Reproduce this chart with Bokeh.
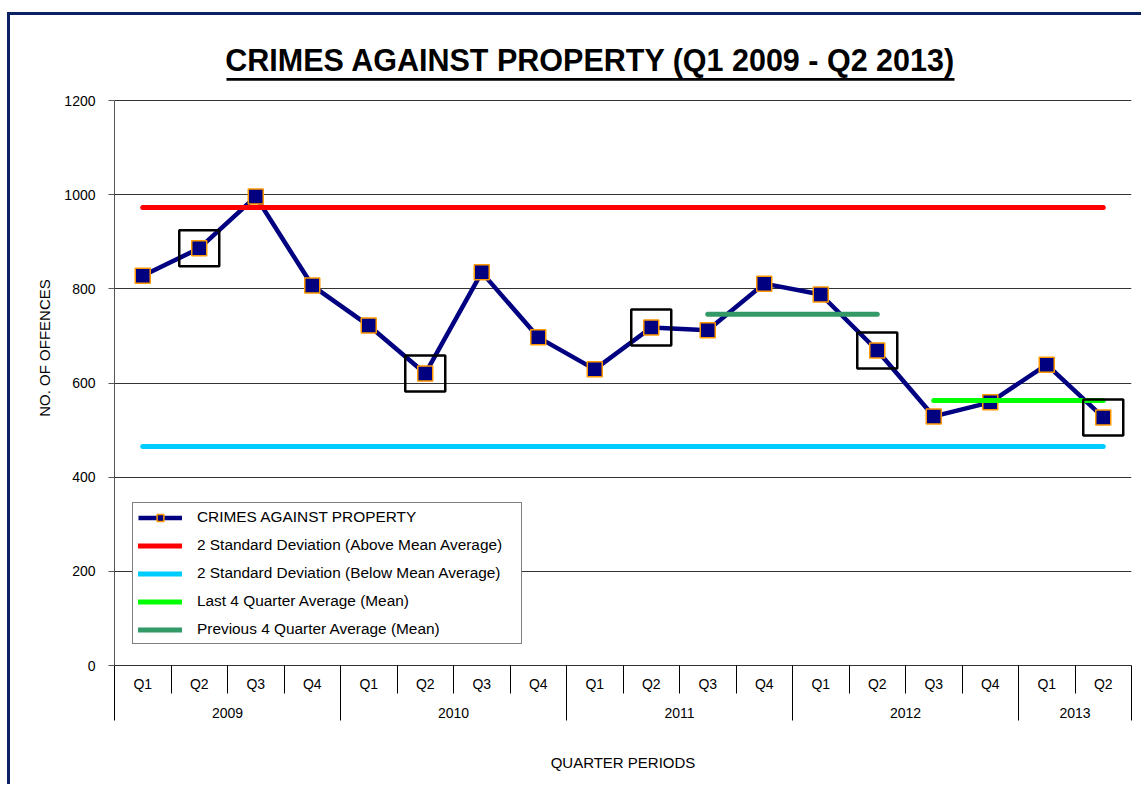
from bokeh.plotting import figure
from bokeh.models import (Range1d, LinearAxis, FixedTicker, Legend, LegendItem,
                          Label, Grid)
from bokeh.embed import file_html
from bokeh.resources import INLINE

# ---------------- data ----------------
quarters = ["Q1", "Q2", "Q3", "Q4", "Q1", "Q2", "Q3", "Q4", "Q1", "Q2", "Q3", "Q4",
            "Q1", "Q2", "Q3", "Q4", "Q1", "Q2"]
years = ["2009"] * 4 + ["2010"] * 4 + ["2011"] * 4 + ["2012"] * 4 + ["2013"] * 2
offences = [828, 886, 996, 807, 722, 620, 835, 697, 629, 718, 712, 811,
            788, 669, 529, 559, 639, 527]
upper_2sd = 973   # 2 Standard Deviation (Above Mean Average)
lower_2sd = 465   # 2 Standard Deviation (Below Mean Average)
last4_avg = 563   # Last 4 Quarter Average (Mean)
prev4_avg = 746   # Previous 4 Quarter Average (Mean)
y_ticks = [0, 200, 400, 600, 800, 1000, 1200]

title_text = "CRIMES AGAINST PROPERTY (Q1 2009 - Q2 2013)"
series_label = "CRIMES AGAINST PROPERTY"
upper_label = "2 Standard Deviation (Above Mean Average)"
lower_label = "2 Standard Deviation (Below Mean Average)"
last4_label = "Last 4 Quarter Average (Mean)"
prev4_label = "Previous 4 Quarter Average (Mean)"

FONT = "Liberation Sans"

n = len(offences)
xs = list(range(n))
last4_x = xs[-4:]
prev4_x = xs[-8:-4]
hl_x = [i for i in xs if quarters[i] == "Q2"]
hl_y = [offences[i] for i in hl_x]

year_list = []
for y in years:
    if y not in year_list:
        year_list.append(y)
year_centers = {}
year_bounds = [-0.5]
for y in year_list:
    idx = [i for i in xs if years[i] == y]
    year_centers[sum(idx) / len(idx)] = y
    year_bounds.append(idx[-1] + 0.5)
q_bounds = [i - 0.5 for i in range(n + 1)]

# ---------------- figure ----------------
p = figure(width=1134, height=772,
           x_range=Range1d(-0.5, n - 0.5), y_range=Range1d(0, 1348.7),
           x_axis_type=None, y_axis_type=None,
           output_backend="svg", toolbar_location=None,
           min_border_left=104, min_border_right=13,
           min_border_top=15, min_border_bottom=122)
p.outline_line_color = None
p.background_fill_color = "white"
p.border_fill_color = "white"
p.styles = {"border-left": "3px solid #0B2161", "border-top": "3px solid #0B2161",
            "margin-top": "12px", "margin-left": "7px"}

# y axis
yticker = FixedTicker(ticks=y_ticks)
yaxis = LinearAxis(ticker=yticker, bounds=(0, 1200),
                   axis_label="NO. OF OFFENCES")
yaxis.axis_line_color = "#555555"
yaxis.major_tick_line_color = "#555555"
yaxis.major_tick_out = 6
yaxis.major_tick_in = 0
yaxis.minor_tick_line_color = None
yaxis.major_label_text_font = FONT
yaxis.major_label_text_font_size = "14px"
yaxis.major_label_text_color = "black"
yaxis.major_label_standoff = 13
yaxis.axis_label_text_font = FONT
yaxis.axis_label_text_font_size = "15px"
yaxis.axis_label_text_font_style = "normal"
yaxis.axis_label_text_color = "black"
yaxis.axis_label_standoff = 8
p.add_layout(yaxis, "left")
p.add_layout(Grid(dimension=1, ticker=yticker, grid_line_color="#333333",
                  grid_line_width=1))

# x axis : quarters (separators drawn as minor ticks)
qaxis = LinearAxis(ticker=FixedTicker(ticks=xs, minor_ticks=q_bounds),
                   major_label_overrides={i: quarters[i] for i in xs})
qaxis.axis_line_color = "#333333"
qaxis.major_tick_line_color = None
qaxis.major_tick_out = 0
qaxis.major_tick_in = 0
qaxis.minor_tick_line_color = "black"
qaxis.minor_tick_out = 28
qaxis.minor_tick_in = 0
qaxis.major_label_text_font = FONT
qaxis.major_label_text_font_size = "14px"
qaxis.major_label_text_color = "black"
qaxis.major_label_standoff = -18
p.add_layout(qaxis, "below")

# x axis : years
yraxis = LinearAxis(ticker=FixedTicker(ticks=list(year_centers.keys()), minor_ticks=year_bounds),
                    major_label_overrides=year_centers,
                    axis_label="QUARTER PERIODS")
yraxis.axis_line_color = None
yraxis.major_tick_line_color = None
yraxis.major_tick_out = 0
yraxis.major_tick_in = 0
yraxis.minor_tick_line_color = "black"
yraxis.minor_tick_out = 26
yraxis.minor_tick_in = 4
yraxis.major_label_text_font = FONT
yraxis.major_label_text_font_size = "14px"
yraxis.major_label_text_color = "black"
yraxis.major_label_standoff = -13
yraxis.axis_label_text_font = FONT
yraxis.axis_label_text_font_size = "15px"
yraxis.axis_label_text_font_style = "normal"
yraxis.axis_label_text_color = "black"
yraxis.axis_label_standoff = 33
p.add_layout(yraxis, "below")

# ---------------- glyphs ----------------
r_line = p.line(xs, offences, line_color="#000080", line_width=4.5)
r_pts = p.scatter(xs, offences, marker="square", size=15,
                  fill_color="#000080", line_color="#FF9900", line_width=1.5)
r_up = p.line([xs[0], xs[-1]], [upper_2sd] * 2, line_color="#FF0000",
              line_width=5, line_cap="round")
r_lo = p.line([xs[0], xs[-1]], [lower_2sd] * 2, line_color="#00CCFF",
              line_width=5, line_cap="round")
r_prev = p.line([prev4_x[0], prev4_x[-1]], [prev4_avg] * 2, line_color="#339966",
                line_width=5, line_cap="round")
r_last = p.line([last4_x[0], last4_x[-1]], [last4_avg] * 2, line_color="#00FF00",
                line_width=5, line_cap="round")
p.rect(hl_x, hl_y, width=40, height=36, width_units="screen", height_units="screen",
       fill_color=None, line_color="black", line_width=2.5)

# ---------------- title ----------------
p.add_layout(Label(x=7.925, y=1287, text=title_text, text_align="center",
                   text_baseline="alphabetic", text_font=FONT,
                   text_font_size="30.5px", text_font_style="bold", text_color="black"))
p.line([1.482, 14.367], [1244.7, 1244.7], line_color="black", line_width=2.7)

# ---------------- legend ----------------
legend = Legend(items=[
    LegendItem(label=series_label, renderers=[r_line, r_pts]),
    LegendItem(label=upper_label, renderers=[r_up]),
    LegendItem(label=lower_label, renderers=[r_lo]),
    LegendItem(label=last4_label, renderers=[r_last]),
    LegendItem(label=prev4_label, renderers=[r_prev]),
], location=(18, 21))
legend.label_text_font = FONT
legend.label_text_font_size = "15.4px"
legend.label_text_color = "black"
legend.label_height = 17
legend.label_width = 319
legend.glyph_height = 17
legend.glyph_width = 44
legend.label_standoff = 15
legend.spacing = 10
legend.padding = 5
legend.margin = 0
legend.border_line_color = "black"
legend.border_line_width = 1
legend.background_fill_color = "white"
legend.background_fill_alpha = 1
p.add_layout(legend)

open("out.html", "w").write(file_html(p, INLINE))
